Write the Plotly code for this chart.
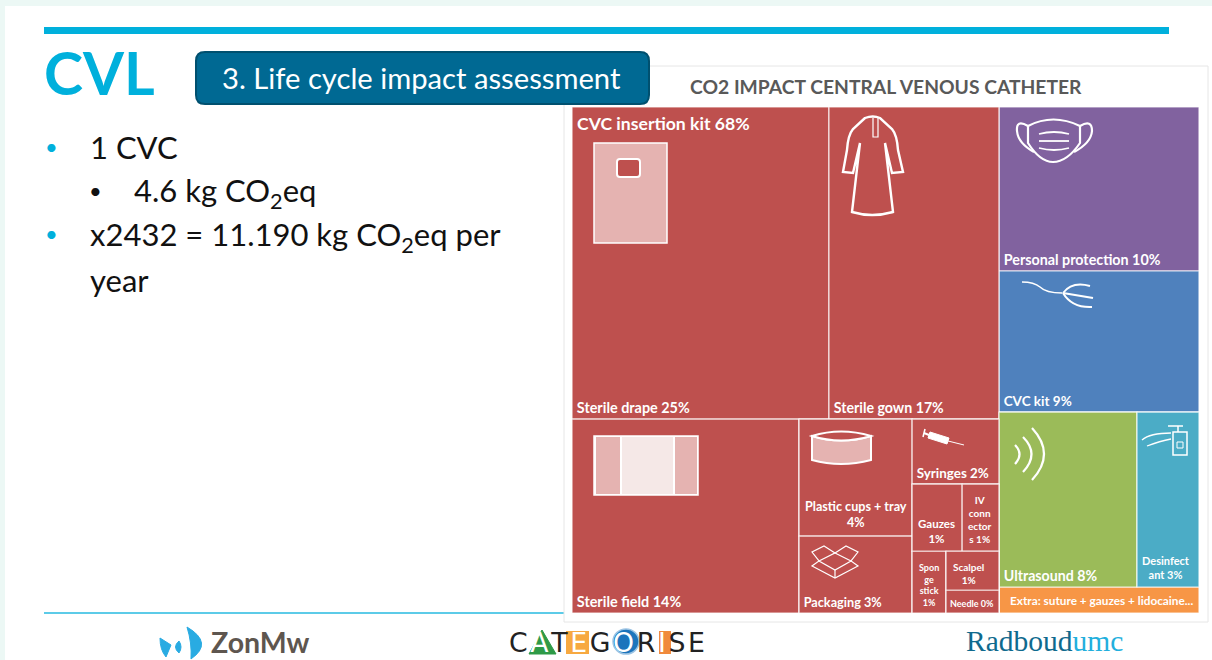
import plotly.graph_objects as go

W, H = 1212, 660
def X(x): return x / W
def Y(y): return 1 - y / H

# ---- data (listed depth first: plotly keeps this order when sort=False) -----
ids = ["root", "kit", "top", "drape", "gown", "bot", "field", "col1", "cups", "pack",
       "col2", "syr", "rowA", "gauz", "conn", "rowB", "spon", "sub", "scal", "need",
       "right", "pers", "cvck", "lower", "ultra", "desi", "extra"]
parents = ["", "root", "kit", "top", "top", "kit", "bot", "bot", "col1", "col1",
           "bot", "col2", "col2", "rowA", "rowA", "col2", "rowB", "rowB", "sub", "sub",
           "root", "right", "right", "right", "lower", "lower", "right"]
values = [0, 0, 0, 25.27, 16.72, 0, 13.88, 0, 4.17, 2.74,
          0, 1.78, 0, 1.06, 0.78, 0, 0.66, 0, 0.65, 0.38,
          0, 10.34, 8.89, 0, 7.61, 3.42, 1.64]
H_ = "\u200a\u200a"
labels = ["", "", "", H_ + "Sterile drape 25%", H_ + "Sterile gown 17%", "", H_ + "Sterile field 14%", "", "", H_ + "Packaging 3%",
          "", H_ + "Syringes 2%", "", "", "", "", "", "", "", "",
          "", H_ + "Personal protection 10%", H_ + "CVC kit 9%", "", H_ + "Ultrasound 8%", "", ""]
RED, PUR, BLU, GRN, TEA, ORA = "#BE504E", "#81629F", "#4F81BD", "#9BBB59", "#4BACC6", "#F79646"
colors = [RED] * 20 + [BLU, PUR, BLU, GRN, GRN, TEA, ORA]
sizes = [12] * 3 + [14.4, 14.2] + [12, 14.4, 12, 12, 12.7] + [12, 13.4] + [12] * 8 + [12, 14.3, 13.5, 12, 14.2, 12, 12]

# labels centred in small cells
centred_labels = ["Plastic cups + tray<br>4%", "Gauzes<br>1%", "IV<br>conn<br>ector<br>s 1%", "Spon<br>ge<br>stick<br>1%",
                  "Scalpel<br>1%", "Needle 0%", "Desinfect<br>ant 3%", "Extra: suture + gauzes + lidocaine..."]
centred_x = [856, 937, 980, 929, 968, 972, 1166, 1101]
centred_y = [514, 531, 519, 585, 573, 603, 567, 600]
centred_sizes = [12.6, 11.5, 10, 9, 10, 9, 11, 11.8]

chart_title = "CO2 IMPACT CENTRAL VENOUS CATHETER"
kit_label = "CVC insertion kit 68%"
slide_title = "CVL"
button_text = "3. Life cycle impact assessment"

FONT = "Lato"
fig = go.Figure(go.Treemap(
    ids=ids, parents=parents, values=values, text=labels, labels=ids,
    branchvalues="remainder", sort=False, textinfo="text", hoverinfo="skip",
    textposition="bottom left",
    tiling=dict(packing="slice-dice", pad=0),
    pathbar=dict(visible=False),
    marker=dict(colors=colors, pad=dict(t=0, l=0, r=0, b=0), line=dict(color="rgba(255,255,255,0.8)", width=1.2)),
    textfont=dict(family=FONT, size=sizes, color="white", weight="bold"),
    domain=dict(x=[X(572), X(1199)], y=[Y(613), Y(107)]),
))

shapes, ann = [], []
def rect(x0, y0, x1, y1, fill=None, line=None, lw=0, layer="above"):
    shapes.append(dict(type="rect", xref="paper", yref="paper", x0=X(x0), x1=X(x1), y0=Y(y0), y1=Y(y1),
                       fillcolor=fill or "rgba(0,0,0,0)", line=dict(color=line or "rgba(0,0,0,0)", width=lw), layer=layer))
def path(cmds, fill=None, line="white", lw=2, layer="above"):
    out = []
    for c in cmds:
        if isinstance(c, str):
            out.append(c)
        else:
            out.append(f"{X(c[0]):.5f},{Y(c[1]):.5f}")
    shapes.append(dict(type="path", xref="paper", yref="paper", path=" ".join(out),
                       fillcolor=fill or "rgba(0,0,0,0)", line=dict(color=line, width=lw), layer=layer))
def rrect(x0, y0, x1, y1, r, fill=None, line="white", lw=2):
    path(["M", (x0 + r, y0), "L", (x1 - r, y0), "Q", (x1, y0), (x1, y0 + r), "L", (x1, y1 - r), "Q", (x1, y1), (x1 - r, y1),
          "L", (x0 + r, y1), "Q", (x0, y1), (x0, y1 - r), "L", (x0, y0 + r), "Q", (x0, y0), (x0 + r, y0), "Z"],
         fill=fill, line=line, lw=lw)
def text(x, y, s, size, color="#111111", anchor="left", bold=False, font=FONT):
    ann.append(dict(xref="paper", yref="paper", x=X(x), y=Y(y), text=s, showarrow=False, xanchor=anchor, yanchor="middle",
                    align=anchor, font=dict(family=font, size=size, color=color, weight="bold" if bold else "normal")))

# slide
rect(5, 6, 1212, 660, fill="white", layer="below")
rect(44, 27, 1169, 34, fill="#00B0DC", layer="below")
shapes.append(dict(type="line", xref="paper", yref="paper", x0=X(44), x1=X(564), y0=Y(613), y1=Y(613),
                   line=dict(color="#5CCBE8", width=2), layer="below"))
rect(564, 66, 1208, 622, fill="white", line="#E6E6E6", lw=1, layer="below")

# header
text(42, 72, slide_title, 59, "#00B0DC", bold=True)
rrect(196, 52, 649, 104, 9, fill="#006993", line="#00506F", lw=2)
text(220, 77, button_text, 29.2, "white")
text(688, 86, chart_title, 19.3, "#595959", bold=True)
text(575, 124, kit_label, 17.6, "white", bold=True)

# bullets
text(43, 146, "•", 22, "#00B0DC")
text(88, 147, "1 CVC", 31)
text(87, 191, "•", 22, "#111111")
text(132, 192, "4.6 kg CO<sub>2</sub>eq", 31)
text(43, 234, "•", 22, "#00B0DC")
text(88, 236, "x2432 = 11.190 kg CO<sub>2</sub>eq per", 31)
text(88, 280, "year", 31)

# labels in small cells
for s, x, y, z in zip(centred_labels, centred_x, centred_y, centred_sizes):
    text(x, y, s, z, "white", anchor="center", bold=True)

# icons
PALE = "#E5B3B1"
rect(594, 143, 667, 243, fill=PALE, line="white", lw=1.5)
rrect(617, 159, 640, 177, 3, fill=RED, line="white", lw=2)
rect(594, 436, 698, 495, fill="white", line="white", lw=1.5)
rect(596, 437, 620, 494, fill=PALE)
rect(622, 437, 673, 494, fill="#F5E8E7")
rect(675, 437, 697, 494, fill=PALE)
# gown
path(["M", (865, 118), "L", (853, 129), "Q", (848, 135), (847, 150), "L", (843, 172), "L", (853, 173), "L", (860, 143),
      "L", (852, 212), "Q", (872, 218), (893, 212), "L", (885, 143), "L", (892, 173), "L", (903, 172), "L", (898, 150),
      "Q", (897, 135), (892, 129), "L", (880, 118), "Q", (873, 115), (865, 118), "Z"], lw=2.4)
path(["M", (873, 118), "L", (873, 137), "L", (878, 137), "L", (878, 118)], lw=1.2)
# mask
path(["M", (1028, 126), "Q", (1053, 113), (1080, 126), "L", (1080, 143), "Q", (1067, 162), (1053, 162), "Q", (1040, 162),
      (1028, 143), "Z"], lw=2.2)
path(["M", (1028, 126), "Q", (1016, 119), (1017, 131), "Q", (1018, 143), (1034, 152)], lw=2.2)
path(["M", (1080, 126), "Q", (1092, 119), (1092, 131), "Q", (1091, 143), (1074, 152)], lw=2.2)
path(["M", (1039, 134), "Q", (1054, 130), (1069, 134)], lw=1.8)
path(["M", (1039, 141), "L", (1069, 141)], lw=1.8)
path(["M", (1039, 148), "Q", (1054, 152), (1069, 148)], lw=1.8)
# catheter
path(["M", (1022, 282), "Q", (1034, 282), (1040, 287), "Q", (1046, 293), (1062, 293)], lw=1.5)
path(["M", (1063, 293), "Q", (1072, 281), (1090, 286)], lw=2)
path(["M", (1063, 293), "L", (1093, 298)], lw=2)
path(["M", (1063, 293), "Q", (1072, 308), (1092, 307)], lw=2)
# syringe
path(["M", (930, 432), "L", (949, 438), "L", (947, 444), "L", (928, 438), "Z"], fill="white", lw=1)
path(["M", (929, 435), "L", (924, 433)], lw=2)
path(["M", (925, 429), "L", (923, 437)], lw=1.5)
path(["M", (948, 441), "L", (964, 445)], lw=1)
# cups
path(["M", (812, 436), "L", (812, 460), "Q", (841, 468), (871, 460), "L", (871, 436), "Q", (841, 445), (812, 436), "Z"], fill=PALE, lw=2)
path(["M", (812, 436), "Q", (841, 427), (871, 436), "Q", (841, 445), (812, 436), "Z"], fill=RED, lw=2)
# box
path(["M", (835, 553), "L", (851, 561), "L", (835, 570), "L", (819, 561), "Z"], lw=1.2)
path(["M", (835, 553), "L", (824, 546), "L", (812, 552), "L", (819, 561), "L", (812, 566), "L", (835, 578), "L", (858, 566),
      "L", (851, 561), "L", (858, 552), "L", (846, 546), "Z"], lw=1.2)
path(["M", (835, 570), "L", (835, 578)], lw=1.2)
# ultrasound
path(["M", (1015, 445), "Q", (1024, 454), (1015, 464)], lw=2.2)
path(["M", (1023, 437), "Q", (1040, 454), (1023, 472)], lw=2.2)
path(["M", (1032, 428), "Q", (1056, 454), (1032, 480)], lw=2.2)
# sanitiser
rect(1173, 432, 1187, 455, line="white", lw=1.5)
rect(1177, 442, 1183, 448, line="white", lw=1)
path(["M", (1168, 426), "L", (1183, 426), "M", (1178, 426), "L", (1178, 432)], lw=1.5)
path(["M", (1142, 440), "Q", (1150, 433), (1171, 433)], lw=1.3)
path(["M", (1147, 446), "Q", (1160, 441), (1171, 439)], lw=1.3)

# footer logos
BL = "#29ABE2"
path(["M", (187, 627), "Q", (214, 643), (191, 659), "Q", (192, 643), (187, 627), "Z"], fill=BL, line=BL, lw=1)
path(["M", (160, 638), "L", (171, 645), "L", (166, 657), "Q", (160, 650), (160, 638), "Z"], fill=BL, line=BL, lw=1)
path(["M", (179, 641), "Q", (172, 647), (179, 653), "Q", (183, 647), (179, 641), "Z"], fill=BL, line=BL, lw=1)
text(209, 642, "ZonMw", 28.5, "#5E564F", bold=True)
path(["M", (542, 630), "L", (556, 654), "L", (529, 654), "Z"], fill="#2E9A47", line="#2E9A47", lw=1)
rect(566, 631, 589, 654, fill="#F7A941")
rect(659, 631, 671, 654, fill="#F08A3C")
shapes.append(dict(type="circle", xref="paper", yref="paper", x0=X(613), x1=X(639), y0=Y(654), y1=Y(629),
                   fillcolor="#1C75BC", line=dict(color="#9CC3E3", width=1.5), layer="above"))
hs = "\u200a"
text(507, 642, f"C{hs}<span style='color:white'>A</span>{hs}T{hs}<span style='color:white'>E</span>{hs}G{hs}<span style='color:white'>O</span>{hs}R{hs}<span style='color:white'>I</span>{hs}S{hs}E", 26.7, "#222222", font="DejaVu Sans")
text(964, 641, "Radboud<span style='color:#22AFDD'>umc</span>", 29.5, "#0F6A8E", font="Liberation Serif")

fig.update_layout(width=W, height=H, margin=dict(l=0, r=0, t=0, b=0), paper_bgcolor="#ECF8F5",
                  shapes=shapes, annotations=ann, showlegend=False)
fig.write_html("out.html", config={"displayModeBar": False},
               post_script="document.body.style.margin='0';document.body.style.overflow='hidden';")
